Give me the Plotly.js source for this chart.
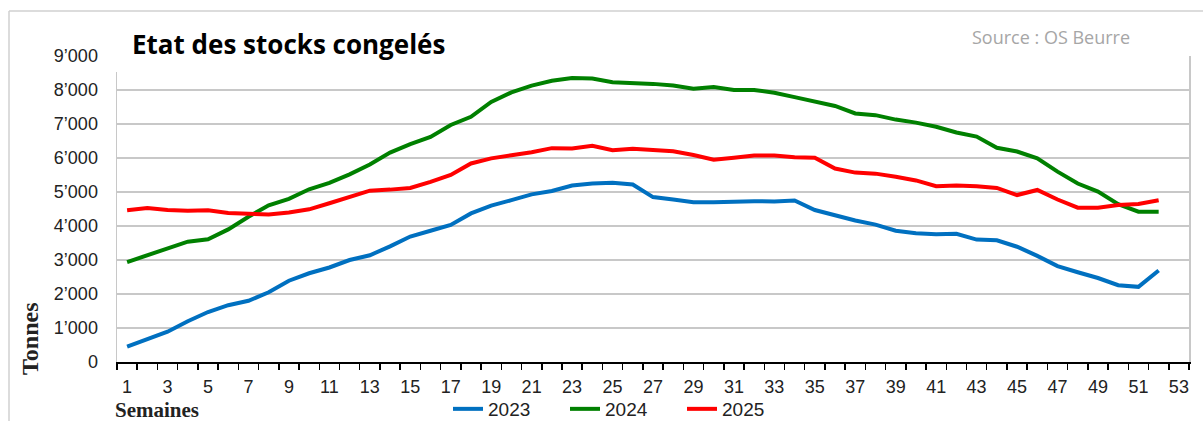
<!DOCTYPE html>
<html lang="fr">
<head>
    <meta charset="UTF-8">
    <title>Etat des stocks congelés</title>
    <script src="https://cdn.plot.ly/plotly-3.0.1.min.js"></script>
    <style>
        body { margin: 0; background: #fff; }
        #chart { width: 1203px; height: 421px; }
    </style>
</head>
<body>
<div id="chart"></div>
<script>
    // semaines 1..52
    var weeks = Array.from({length: 52}, (_, i) => i + 1);

    var stock2023 = [450, 670, 890, 1200, 1470, 1670, 1800, 2050, 2390, 2610,
        2780, 3000, 3140, 3400, 3690, 3860, 4030, 4370, 4600, 4760,
        4930, 5030, 5190, 5250, 5270, 5220, 4850, 4780, 4700, 4700,
        4720, 4730, 4720, 4750, 4470, 4300, 4160, 4040, 3860, 3790,
        3760, 3770, 3600, 3580, 3390, 3120, 2820, 2640, 2470, 2260,
        2210, 2690];

    var stock2024 = [2940, 3130, 3330, 3540, 3610, 3900, 4270, 4610, 4800, 5080,
        5270, 5520, 5810, 6160, 6410, 6620, 6970, 7210, 7650, 7930,
        8130, 8270, 8350, 8340, 8230, 8210, 8180, 8130, 8040, 8090,
        8000, 8000, 7920, 7790, 7660, 7530, 7310, 7260, 7130, 7040,
        6920, 6750, 6630, 6300, 6190, 5990, 5600, 5250, 5010, 4640,
        4420, 4420];

    var stock2025 = [4460, 4530, 4470, 4450, 4460, 4380, 4360, 4340, 4400, 4490,
        4670, 4860, 5040, 5070, 5120, 5300, 5500, 5840, 5990, 6080,
        6170, 6290, 6280, 6360, 6230, 6270, 6230, 6200, 6090, 5950,
        6010, 6070, 6070, 6020, 6010, 5690, 5570, 5540, 5450, 5340,
        5170, 5190, 5170, 5120, 4910, 5060, 4780, 4540, 4540, 4620,
        4650, 4760];

    var yTicks = [0, 1000, 2000, 3000, 4000, 5000, 6000, 7000, 8000, 9000];
    var yLabels = ['0', '1’000', '2’000', '3’000', '4’000', '5’000', '6’000', '7’000', '8’000', '9’000'];
    var xTicks = Array.from({length: 27}, (_, i) => 2 * i + 1);
    var xBounds = Array.from({length: 54}, (_, i) => i + 0.5);

    var series = [
        {name: '2023', y: stock2023, color: '#0070C0'},
        {name: '2024', y: stock2024, color: '#008000'},
        {name: '2025', y: stock2025, color: '#FF0000'}
    ];

    var traces = series.map(function (s) {
        return {
            x: weeks,
            y: s.y,
            name: s.name,
            type: 'scatter',
            mode: 'lines',
            line: {color: s.color, width: 4}
        };
    });

    var axisFont = {family: 'Liberation Sans, Arial, sans-serif', size: 18, color: '#222'};

    var layout = {
        width: 1203,
        height: 421,
        margin: {l: 117, r: 14, t: 56, b: 59, autoexpand: false},
        paper_bgcolor: '#fff',
        plot_bgcolor: '#fff',
        showlegend: true,
        title: {
            text: '<b>Etat des stocks congelés</b>',
            font: {family: 'Open Sans, sans-serif', size: 26, color: '#000'},
            xref: 'container', yref: 'container',
            x: 132 / 1203, xanchor: 'left',
            y: 1 - 45 / 421, yanchor: 'middle'
        },
        xaxis: {
            range: [0.5, 53.5],
            tickmode: 'array',
            tickvals: xTicks,
            ticks: 'outside',
            ticklen: 8,
            tickcolor: 'rgba(0,0,0,0)',
            tickfont: axisFont,
            showgrid: false,
            zeroline: false,
            showline: true,
            linecolor: '#000',
            linewidth: 1.5,
            minor: {
                tickmode: 'array',
                tickvals: xBounds,
                ticks: 'outside',
                ticklen: 6,
                tickwidth: 1.5,
                tickcolor: '#000',
                showgrid: false
            },
            fixedrange: true
        },
        yaxis: {
            range: [0, 9000],
            tickmode: 'array',
            tickvals: yTicks,
            ticktext: yLabels,
            ticks: 'outside',
            ticklen: 14,
            tickcolor: 'rgba(0,0,0,0)',
            tickfont: axisFont,
            showgrid: true,
            gridcolor: '#c8c8c8',
            gridwidth: 1.5,
            zeroline: false,
            showline: true,
            mirror: true,
            linecolor: '#c8c8c8',
            linewidth: 1.5,
            fixedrange: true
        },
        legend: {
            orientation: 'h',
            xref: 'paper', yref: 'paper',
            x: (448 - 117) / 1072, xanchor: 'left',
            y: (362 - 409) / 306, yanchor: 'middle',
            font: {family: 'Liberation Sans, Arial, sans-serif', size: 19, color: '#222'},
            entrywidth: 72,
            entrywidthmode: 'pixels',
            maxheight: 80,
            bgcolor: 'rgba(0,0,0,0)',
            traceorder: 'normal'
        },
        shapes: [
            // fond blanc derrière le titre
            {type: 'rect', xref: 'paper', yref: 'paper', layer: 'above',
                x0: -0.005, x1: (580 - 117) / 1072, y0: (362 - 72) / 306, y1: (362 - 38) / 306,
                fillcolor: '#fff', line: {width: 0}},
            // cadre extérieur
            {type: 'line', xref: 'paper', yref: 'paper',
                x0: (9 - 117) / 1072, x1: (9 - 117) / 1072, y0: -0.4, y1: (362 - 11) / 306,
                line: {color: '#d0d0d0', width: 1.5}},
            {type: 'line', xref: 'paper', yref: 'paper',
                x0: (9 - 117) / 1072, x1: 1.05, y0: (362 - 11) / 306, y1: (362 - 11) / 306,
                line: {color: '#d0d0d0', width: 1.5}}
        ],
        annotations: [
            {text: 'Source : OS Beurre', xref: 'paper', yref: 'paper',
                x: (1051 - 117) / 1072, y: (362 - 37) / 306, xanchor: 'center', yanchor: 'middle',
                showarrow: false, font: {family: 'Open Sans, sans-serif', size: 18, color: '#a6a6a6'}},
            {text: '<b>Tonnes</b>', xref: 'paper', yref: 'paper',
                x: (30 - 117) / 1072, y: (362 - 339) / 306, xanchor: 'center', yanchor: 'middle',
                textangle: -90, showarrow: false,
                font: {family: 'Liberation Serif, Times New Roman, serif', size: 24, color: '#222'}},
            {text: '<b>Semaines</b>', xref: 'paper', yref: 'paper',
                x: (113 - 117) / 1072, y: (362 - 410) / 306, xanchor: 'left', yanchor: 'middle',
                showarrow: false,
                font: {family: 'Liberation Serif, Times New Roman, serif', size: 21, color: '#222'}}
        ]
    };

    Plotly.newPlot('chart', traces, layout, {displayModeBar: false, staticPlot: true});
</script>
</body>
</html>
